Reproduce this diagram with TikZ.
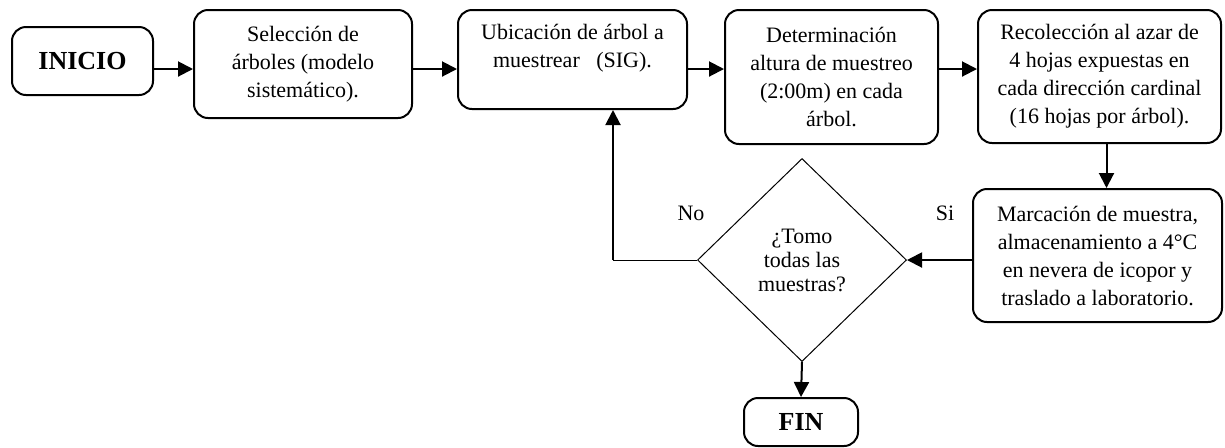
\documentclass[tikz,border=0pt]{standalone}
\usepackage{fontspec}
\setmainfont{Liberation Serif}
\usepackage{tikz}
\usetikzlibrary{arrows.meta,positioning,shapes.geometric}
\usepackage{xcolor}
\definecolor{tinta}{HTML}{000000}

\begin{document}
\begin{tikzpicture}[x=0.5pt, y=-0.5pt,
    caja/.style={draw=tinta, line width=1pt, rounded corners=7pt, align=center,
      inner sep=0pt, font=\fontsize{11}{14}\selectfont},
    terminal/.style={caja, font=\fontsize{13}{15}\selectfont\bfseries},
    rombo/.style={diamond, draw=tinta, line width=0.5pt, align=center,
      inner sep=0pt, font=\fontsize{11}{12}\selectfont},
    flecha/.style={draw=tinta, line width=1pt, -{Triangle[length=7.5pt,width=7.5pt]}},
    etiqueta/.style={font=\fontsize{11}{14}\selectfont}]
  \useasboundingbox (0,0) rectangle (1225,447);

  % fila superior
  \node[terminal, minimum width=70.5pt, minimum height=34pt] (ini) at (82.5,61) {INICIO};
  \node[caja, minimum width=109pt, minimum height=54pt] (sel) at (303,64)
    {Selección de\\árboles (modelo\\sistemático).};
  \node[caja, minimum width=114.5pt, minimum height=49.5pt] (ubi) at (572.5,59.5)
    {Ubicación de árbol a\\muestrear\ \ \ (SIG).\\\mbox{}};
  \node[caja, minimum width=106.5pt, minimum height=67pt] (det) at (831.5,77)
    {Determinación\\altura de muestreo\\(2:00m) en cada\\árbol.};
  \node[caja, minimum width=121.5pt, minimum height=66.5pt] (rec) at (1099.5,76.5)
    {Recolección al azar de\\4 hojas expuestas en\\cada dirección cardinal\\(16 hojas por árbol).};

  % fila inferior
  \node[caja, minimum width=124.5pt, minimum height=66.5pt] (mar) at (1097.5,255.5)
    {Marcación de muestra,\\almacenamiento a 4°C\\en nevera de icopor y\\traslado a laboratorio.};
  \node[rombo, minimum width=104.5pt, minimum height=101.5pt] (dec) at (802,260)
    {¿Tomo\\todas las\\muestras?};
  \node[terminal, minimum width=57pt, minimum height=24pt] (fin) at (801,422) {FIN};

  \node[etiqueta] (no) at (691,213) {No};
  \node[etiqueta] (si) at (945,213) {Si};

  \coordinate (fila) at (0,69);
  \coordinate (codo) at (613,260);

  % conectores
  \draw[flecha] (ini.east |- fila) -- (sel.west |- fila);
  \draw[flecha] (sel.east |- fila) -- (ubi.west |- fila);
  \draw[flecha] (ubi.east |- fila) -- (det.west |- fila);
  \draw[flecha] (det.east |- fila) -- (rec.west |- fila);
  \draw[flecha] ([xshift=3.5pt]rec.south) -- ([xshift=3.5pt]rec.south |- mar.north);
  \draw[flecha] (mar.west |- dec.east) -- (dec.east);
  \draw[flecha] (dec.south) -- (fin.north);
  \draw[line width=0.5pt] (dec.west) -- (codo);
  \draw[flecha] (codo) -- (codo |- ubi.south);
\end{tikzpicture}
\end{document}
